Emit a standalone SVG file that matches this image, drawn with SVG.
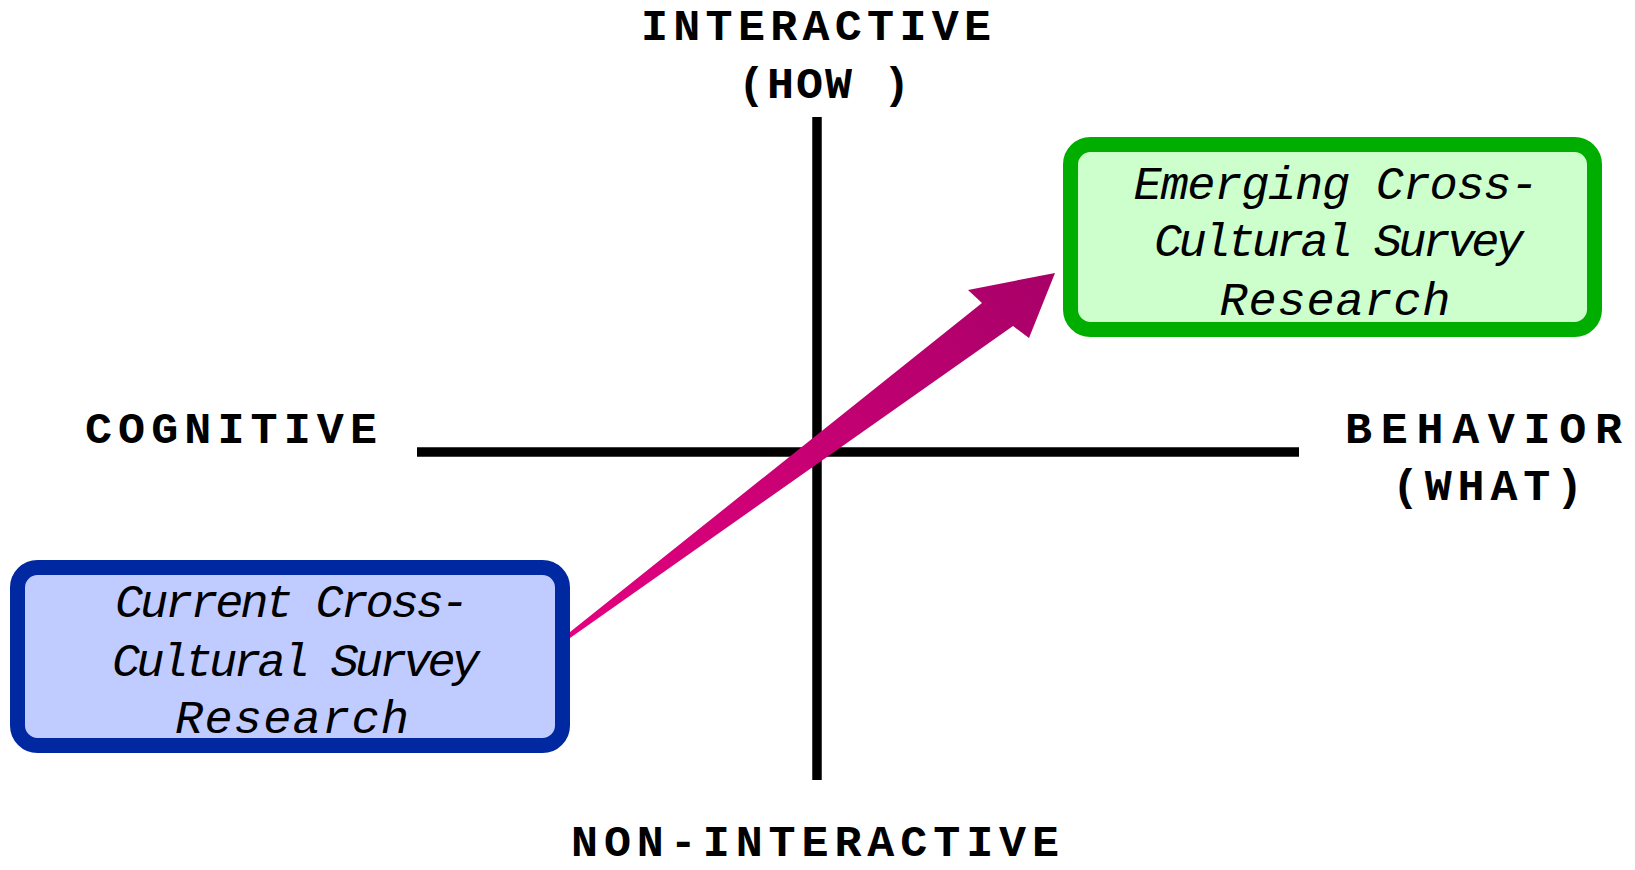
<svg xmlns="http://www.w3.org/2000/svg" width="1635" height="870" viewBox="0 0 1635 870">
  <style>
    .axis { stroke: #000; stroke-width: 9.5; fill: none; }
    .label { font-family: "Liberation Mono", "Courier New", monospace; font-weight: bold; font-size: 45px; fill: #000; }
    .boxtext { font-family: "Liberation Mono", "Courier New", monospace; font-style: italic; font-size: 47px; fill: #000; text-anchor: middle; }
  </style>
  <defs>
    <linearGradient id="arrowFill" gradientUnits="userSpaceOnUse" x1="570" y1="635" x2="1055" y2="273">
      <stop offset="0" stop-color="#e5007f"/>
      <stop offset="1" stop-color="#a80068"/>
    </linearGradient>
  </defs>

  <rect width="1635" height="870" fill="#fff"/>

  <!-- quadrant axes -->
  <g id="axes">
    <line class="axis" x1="817" y1="117" x2="817" y2="780"/>
    <line class="axis" x1="417" y1="452" x2="1299" y2="452"/>
  </g>

  <!-- axis labels -->
  <g id="label-interactive">
    <text class="label" x="641" y="40" textLength="350" lengthAdjust="spacing">INTERACTIVE</text>
    <text class="label" x="738" y="98" textLength="172" lengthAdjust="spacing">(HOW )</text>
  </g>
  <g id="label-cognitive">
    <text class="label" x="85" y="443" textLength="292" lengthAdjust="spacing">COGNITIVE</text>
  </g>
  <g id="label-behavior">
    <text class="label" x="1345" y="443" textLength="277" lengthAdjust="spacing">BEHAVIOR</text>
    <text class="label" x="1392" y="500" textLength="191" lengthAdjust="spacing">(WHAT)</text>
  </g>
  <g id="label-noninteractive">
    <text class="label" x="571" y="856" textLength="488" lengthAdjust="spacing">NON-INTERACTIVE</text>
  </g>

  <!-- current research box -->
  <g id="node-current">
    <rect x="17.5" y="567.5" width="545" height="178" rx="20" fill="#c0ccff" stroke="#0028a0" stroke-width="15"/>
    <text class="boxtext" x="292" y="617" textLength="354" lengthAdjust="spacing">Current Cross-</text>
    <text class="boxtext" x="296" y="676" textLength="368" lengthAdjust="spacing">Cultural Survey</text>
    <text class="boxtext" x="292" y="733" textLength="234" lengthAdjust="spacing">Research</text>
  </g>

  <!-- emerging research box -->
  <g id="node-emerging">
    <rect x="1070.5" y="144.5" width="524" height="185" rx="20" fill="#ccffcc" stroke="#00ae00" stroke-width="15"/>
    <text class="boxtext" x="1336" y="199" textLength="405" lengthAdjust="spacing">Emerging Cross-</text>
    <text class="boxtext" x="1339" y="256" textLength="370" lengthAdjust="spacing">Cultural Survey</text>
    <text class="boxtext" x="1335" y="315" textLength="231" lengthAdjust="spacing">Research</text>
  </g>

  <!-- connector: widening block arrow from current to emerging -->
  <g id="connectors">
    <polygon points="570,632 982,303 968,290 1055,273 1029,338 1013,326 570,638" fill="url(#arrowFill)"/>
  </g>
</svg>
